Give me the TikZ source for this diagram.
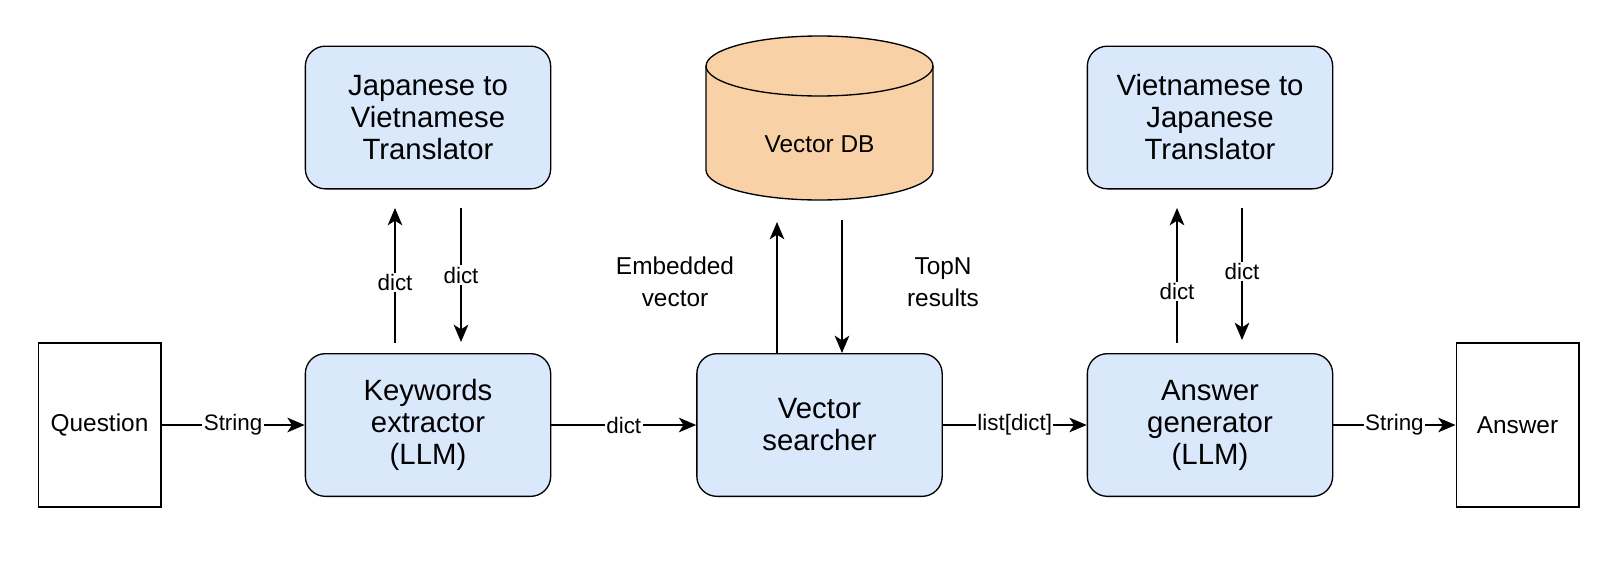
\documentclass[tikz,border=0pt]{standalone}
\usepackage{fontspec}
\setmainfont{Liberation Sans}
\usepackage{tikz}
\usetikzlibrary{arrows.meta, positioning, calc}
\definecolor{boxblue}{RGB}{218,232,252}
\definecolor{dborange}{RGB}{248,210,166}

\begin{document}
\begin{tikzpicture}[x=0.75pt, y=-0.75pt,
    box/.style={rectangle, draw, line width=1pt, fill=boxblue, rounded corners=15pt, minimum width=184pt, minimum height=107pt, align=center, font=\fontsize{22}{24}\selectfont},
    io/.style={rectangle, draw, line width=1pt, fill=white, minimum width=92pt, minimum height=123pt, font=\fontsize{18.3}{24}\selectfont},
    note/.style={align=center, font=\fontsize{18.3}{24}\selectfont},
    lbl/.style={fill=white, inner sep=1pt, font=\fontsize{16.8}{20}\selectfont},
    arrow/.style={-{Stealth[length=13pt, width=11pt, inset=3.5pt]}, line width=1pt}
]
    \useasboundingbox (0,0) rectangle (1616,564);

    % Input and output
    \node[io] (question) at (99.5,425) {Question};
    \node[io] (answer) at (1517.5,425) {Answer};

    % Pipeline
    \node[box] (extractor) at (428,425) {Keywords\\extractor\\(LLM)};
    \node[box] (searcher) at (819.5,425) {Vector\\searcher};
    \node[box] (generator) at (1210,425) {Answer\\generator\\(LLM)};

    % Translators
    \node[box] (jp2vi) at (428,117.5) {Japanese to\\Vietnamese\\Translator};
    \node[box] (vi2jp) at (1210,117.5) {Vietnamese to\\Japanese\\Translator};

    % Vector DB
    \filldraw[fill=dborange, line width=1pt] (706,66) -- (706,170)
        arc[start angle=180, end angle=360, x radius=85.1pt, y radius=22.5pt] -- (933,66)
        arc[start angle=0, end angle=180, x radius=85.1pt, y radius=22.5pt] -- cycle;
    \draw[line width=1pt] (706,66) arc[start angle=180, end angle=360, x radius=85.1pt, y radius=22.5pt];
    \node[note] (vectordb) at (819.5,144) {Vector DB};

    % Main flow
    \draw[arrow] (question) -- node[lbl] {String} (extractor);
    \draw[arrow] (extractor) -- node[lbl] {dict} (searcher);
    \draw[arrow] (searcher) -- node[lbl] {list[dict]} (generator);
    \draw[arrow] (generator) -- node[lbl] {String} (answer);

    % Translation round trips
    \coordinate (exout) at (395,343);
    \coordinate (jvin) at (395,208);
    \coordinate (jvout) at (461,208);
    \coordinate (exin) at (461,342);
    \draw[arrow] (exout) -- node[lbl, pos=0.45] {dict} (jvin);
    \draw[arrow] (jvout) -- node[lbl] {dict} (exin);

    \coordinate (genout) at (1177,343);
    \coordinate (vjin) at (1177,208);
    \coordinate (vjout) at (1242,208);
    \coordinate (genin) at (1242,340);
    \draw[arrow] (genout) -- node[lbl, pos=0.38] {dict} (vjin);
    \draw[arrow] (vjout) -- node[lbl, pos=0.48] {dict} (genin);

    % Vector DB round trip
    \coordinate (dbin) at (777,222);
    \coordinate (dbout) at (842,220);
    \draw[arrow] (dbin |- searcher.north) -- (dbin);
    \draw[arrow] (dbout) -- (dbout |- searcher.north);
    \node[note] (embedded) at (675,282) {Embedded\\vector};
    \node[note] (topn) at (943,282) {TopN\\results};

\end{tikzpicture}
\end{document}
